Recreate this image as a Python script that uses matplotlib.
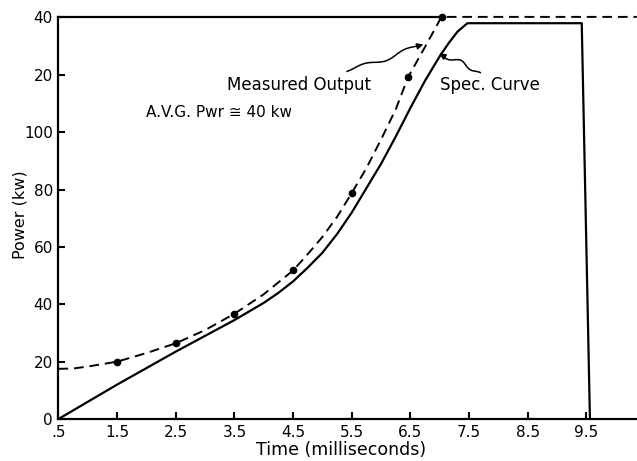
import matplotlib.pyplot as plt
import numpy as np

# Data
spec_x = [0.5, 1.5, 2.5, 3.0, 3.5, 4.0, 4.25, 4.5, 4.75, 5.0, 5.25, 5.5, 5.75, 6.0, 6.25, 6.5,
          6.75, 7.0, 7.15, 7.3, 7.47, 9.42, 9.56]
spec_y = [0, 12, 23.5, 29, 34.5, 40.5, 44, 48, 52.8, 58, 64.5, 72, 80.5, 89, 98.5, 108.5,
          118, 126.5, 131, 135, 138, 138, 0]

meas_x = [0.5, 0.75, 1.0, 1.5, 2.0, 2.5, 3.0, 3.5, 4.0, 4.5, 4.75, 5.0, 5.25, 5.5, 5.75,
          6.0, 6.25, 6.46, 6.75, 7.03, 10.36]
meas_y = [17.5, 17.6, 18.3, 20, 23, 26.4, 31, 36.7, 43.5, 51.8, 57.5, 63.5, 70.5, 78.8, 87.5,
          97.5, 108, 119.2, 129.8, 140.2, 140.2]

dot_x = [1.5, 2.5, 3.5, 4.5, 5.5, 6.46, 7.03]
dot_y = [20, 26.4, 36.7, 51.8, 78.8, 119.2, 140.2]

xticks = [0.5, 1.5, 2.5, 3.5, 4.5, 5.5, 6.5, 7.5, 8.5, 9.5]
xtick_labels = ['.5', '1.5', '2.5', '3.5', '4.5', '5.5', '6.5', '7.5', '8.5', '9.5']
yticks = [0, 20, 40, 60, 80, 100, 120, 140]
ytick_labels = ['0', '20', '40', '60', '80', '100', '20', '40']

fig = plt.figure(figsize=(6.37, 4.61), dpi=100)
ax = fig.add_axes([0.0918, 0.0911, 0.908, 0.871])

ax.plot(spec_x, spec_y, color='black', lw=1.6, solid_joinstyle='round')
ax.plot(meas_x, meas_y, color='black', lw=1.4, dashes=(5, 3), clip_on=False)
ax.plot(dot_x, dot_y, 'o', color='black', ms=4.5, clip_on=False)

ax.set_xlim(0.5, 10.36)
ax.set_ylim(0, 140)

for side in ['left', 'bottom', 'top']:
    ax.spines[side].set_linewidth(1.6)
ax.spines['right'].set_visible(False)
ax.spines['top'].set_bounds(0.5, 7.03)

ax.set_xticks(xticks)
ax.set_xticklabels(xtick_labels)
ax.set_yticks(yticks)
ax.set_yticklabels(ytick_labels)
ax.tick_params(direction='in', length=5, width=1.5, labelsize=11)
ax.tick_params(axis='x', pad=4)
ax.tick_params(axis='y', pad=4)

ax.set_xlabel('Time (milliseconds)', fontsize=12.5)
ax.xaxis.set_label_coords(0.488, -0.056)
ax.set_ylabel('Power (kw)', fontsize=11.5)
ax.yaxis.set_label_coords(-0.054, 0.51)

ax.text(4.60, 116.6, 'Measured Output', ha='center', va='center', fontsize=12)
ax.text(7.86, 116.6, 'Spec. Curve', ha='center', va='center', fontsize=12)
ax.text(3.24, 106.8, 'A.V.G. Pwr \u2245 40 kw', ha='center', va='center', fontsize=11)


# wiggly pointer arrows
def wiggle_arrow(start, end, amp=3.0, cycles=1.5):
    p0 = ax.transData.transform(start)
    p1 = ax.transData.transform(end)
    d = p1 - p0
    n = np.array([-d[1], d[0]]) / np.hypot(*d)
    t = np.linspace(0, 1, 60)
    pts = p0 + np.outer(t, d) + np.outer(amp * np.sin(2 * np.pi * cycles * t) * np.sin(np.pi * t), n)
    data = ax.transData.inverted().transform(pts)
    ax.plot(data[:-3, 0], data[:-3, 1], color='black', lw=1.1)
    ax.annotate('', xy=data[-1], xytext=data[-4],
                arrowprops=dict(arrowstyle='-|>', color='black', lw=1.1,
                                mutation_scale=9, shrinkA=0, shrinkB=0))


wiggle_arrow((5.42, 121.2), (6.72, 130.6))
wiggle_arrow((7.69, 120.8), (6.99, 127.4))

fig.savefig('out.png', dpi=100)
